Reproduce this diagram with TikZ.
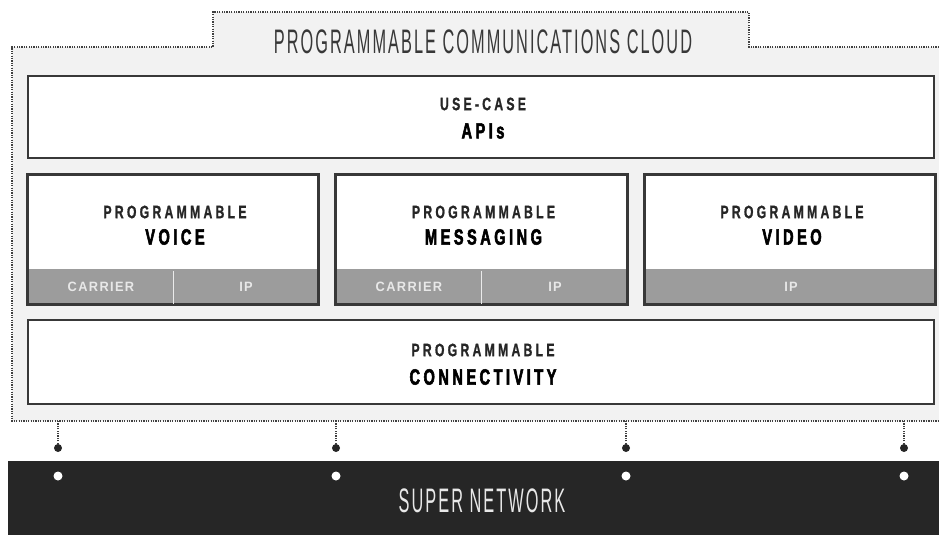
\documentclass[tikz,border=0pt]{standalone}
\usepackage{fontspec}
\setmainfont{Liberation Sans}
\newfontfamily\thinfont[FakeStretch=0.48,LetterSpace=6]{Liberation Sans}
\newfontfamily\boxfont[FakeStretch=0.68,LetterSpace=18,FakeBold=1]{Liberation Sans}
\newfontfamily\heavyfont[FakeStretch=0.66,LetterSpace=16,FakeBold=2.5]{Liberation Sans}
\newfontfamily\tagfont[FakeStretch=0.95,LetterSpace=10]{Liberation Sans}
\usetikzlibrary{positioning}
\definecolor{cloudgray}{HTML}{F2F2F2}
\definecolor{boxline}{HTML}{383838}
\definecolor{bandgray}{HTML}{9C9C9C}
\definecolor{taggray}{HTML}{E8E8E8}
\definecolor{netblack}{HTML}{262626}
\definecolor{dotgray}{HTML}{404040}
\tikzset{
  panel/.style={draw=boxline,line width=2pt,fill=white,inner sep=0pt},
  banded/.style={panel,path picture={
      \fill[bandgray] (path picture bounding box.south west)
        rectangle ([yshift=35pt]path picture bounding box.south east);}},
  dotline/.style={draw=dotgray,line width=1.6pt,dash pattern=on 1.3pt off 1.1pt},
  upper/.style={font=\boxfont\bfseries\fontsize{18}{18}\selectfont,text=netblack},
  main/.style={font=\heavyfont\bfseries\fontsize{22}{22}\selectfont,text=black},
  tag/.style={font=\tagfont\bfseries\fontsize{13.5}{13.5}\selectfont,text=taggray},
  bigtitle/.style={font=\thinfont\fontsize{34}{34}\selectfont}
}
\begin{document}
\begin{tikzpicture}[x=1pt,y=-1pt]
  \useasboundingbox (0,0) rectangle (939,535);
  % cloud outline with tab
  \fill[cloudgray] (12,47) -- (213,47) -- (213,12) -- (749,12) -- (749,47)
    -- (939,47) -- (939,421) -- (12,421) -- cycle;
  \draw[dotline] (939,47) -- (749,47) -- (749,12) -- (213,12) -- (213,47)
    -- (12,47) -- (12,421) -- (939,421);
  \node[bigtitle,text=boxline] (cloud) at (483,42) {PROGRAMMABLE COMMUNICATIONS CLOUD};
  \coordinate (cloudbase) at (12,421);

  \node[panel,minimum width=906,minimum height=82] (apis) at (481,117) {};
  \node[upper] (apis1) at (483,104) {USE-CASE};
  \node[main] (apis2) at (483,131) {APIs};

  \node[banded,minimum width=290,minimum height=129] (voice) at (173,239.5) {};
  \node[banded,minimum width=291,minimum height=129] (messaging) at (481.5,239.5) {};
  \node[banded,minimum width=290,minimum height=129] (video) at (790,239.5) {};
  \draw[panel,fill=none] (voice.south west) rectangle (voice.north east);
  \draw[panel,fill=none] (messaging.south west) rectangle (messaging.north east);
  \draw[panel,fill=none] (video.south west) rectangle (video.north east);
  \draw[white!80!bandgray,line width=1pt] ([yshift=1pt]voice.south -| 173,0) -- ([yshift=34pt]voice.south -| 173,0);
  \draw[white!80!bandgray,line width=1pt] ([yshift=1pt]messaging.south -| 481,0) -- ([yshift=34pt]messaging.south -| 481,0);

  \node[upper] (voice1) at (175,212) {PROGRAMMABLE};
  \node[main] (voice2) at (175,237) {VOICE};
  \node[upper] (messaging1) at (483.5,212) {PROGRAMMABLE};
  \node[main] (messaging2) at (483.5,237) {MESSAGING};
  \node[upper] (video1) at (792,212) {PROGRAMMABLE};
  \node[main] (video2) at (792,237) {VIDEO};
  \node[tag] (voicec) at (101,287) {CARRIER};
  \node[tag] (voicei) at (246,287) {IP};
  \node[tag] (messagingc) at (409,287) {CARRIER};
  \node[tag] (messagingi) at (555,287) {IP};
  \node[tag] (videoi) at (791,287) {IP};

  \node[panel,minimum width=906,minimum height=84] (connectivity) at (481,362) {};
  \node[upper] (connectivity1) at (483,350) {PROGRAMMABLE};
  \node[main] (connectivity2) at (483,377) {CONNECTIVITY};

  % super network band
  \node[fill=netblack,inner sep=0pt,minimum width=931,minimum height=74,anchor=north west] (net) at (8,461) {};
  \node[bigtitle,text=taggray] (nettext) at (482,501) {SUPER NETWORK};
  \foreach \x [count=\i] in {58,336,626,904} {
    \node[circle,fill=netblack,inner sep=0pt,minimum size=8] (up\i) at (\x,448) {};
    \node[circle,fill=white,inner sep=0pt,minimum size=9] (down\i) at (\x,476) {};
    \draw[dotline] (up\i) -- (up\i |- cloudbase);
  }
\end{tikzpicture}
\end{document}
